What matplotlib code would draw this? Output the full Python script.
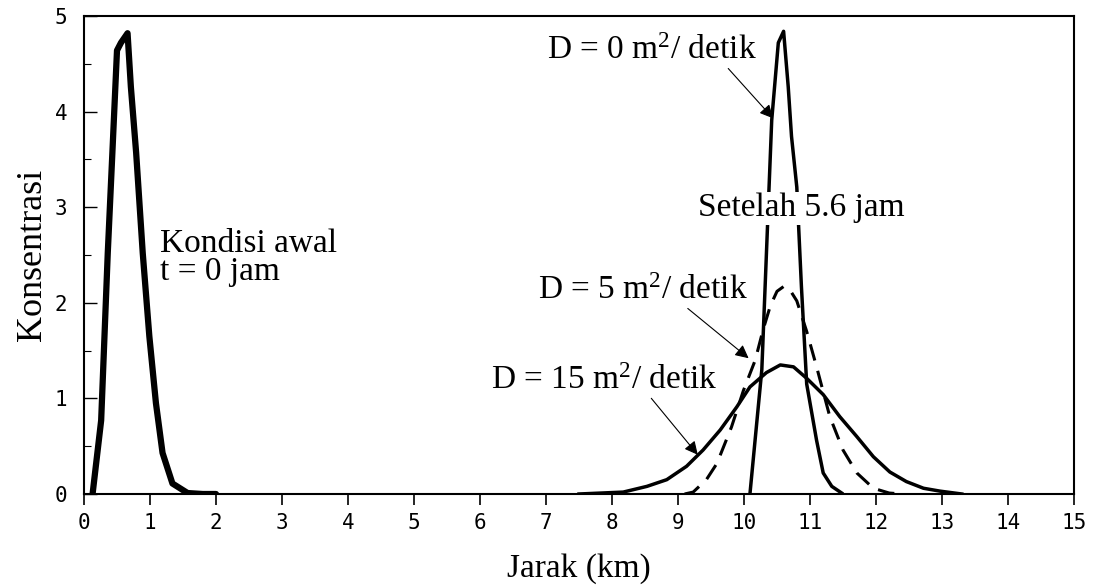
import matplotlib
matplotlib.use("Agg")
import matplotlib.pyplot as plt
from matplotlib.ticker import MultipleLocator

# ---- data ----
x_init = [0.13, 0.26, 0.36, 0.43, 0.50, 0.56, 0.66, 0.71, 0.79, 0.89, 0.99, 1.09, 1.19, 1.34, 1.57, 1.8, 2.0]
c_init = [0.0, 0.77, 2.52, 3.57, 4.64, 4.72, 4.82, 4.26, 3.57, 2.52, 1.65, 0.95, 0.43, 0.11, 0.01, 0.0, 0.0]

x_d0 = [10.09, 10.27, 10.34, 10.42, 10.52, 10.60, 10.67, 10.72, 10.80, 10.87, 10.95, 11.10, 11.20, 11.33, 11.48]
c_d0 = [0.0, 1.30, 2.52, 3.91, 4.72, 4.84, 4.26, 3.74, 3.21, 2.17, 1.15, 0.56, 0.22, 0.08, 0.01]

x_d5 = [9.1, 9.23, 9.43, 9.59, 9.81, 9.99, 10.17, 10.29, 10.40, 10.50, 10.60, 10.70, 10.80, 10.95, 11.10, 11.30, 11.50, 11.71, 11.96, 12.2, 12.4]
c_d5 = [0.0, 0.02, 0.15, 0.32, 0.70, 1.08, 1.40, 1.72, 1.97, 2.12, 2.17, 2.13, 2.02, 1.70, 1.33, 0.81, 0.46, 0.22, 0.06, 0.01, 0.0]

x_d15 = [7.5, 8.17, 8.53, 8.83, 9.13, 9.38, 9.64, 9.89, 10.09, 10.34, 10.55, 10.75, 10.95, 11.20, 11.45, 11.71, 11.96, 12.21, 12.46, 12.72, 12.97, 13.3]
c_d15 = [0.0, 0.02, 0.08, 0.15, 0.29, 0.46, 0.67, 0.91, 1.12, 1.27, 1.35, 1.33, 1.21, 1.04, 0.81, 0.60, 0.39, 0.23, 0.13, 0.06, 0.03, 0.0]

x_ticks = list(range(0, 16))
y_ticks = [0, 1, 2, 3, 4, 5]

plt.rcParams['mathtext.fontset'] = 'custom'
plt.rcParams['mathtext.rm'] = 'Liberation Serif'
plt.rcParams['mathtext.default'] = 'regular'

serif = 'Liberation Serif'
tfs = 24

fig = plt.figure(figsize=(10.96, 5.87), dpi=100)
ax = fig.add_axes([84/1096, 1 - 494/587, (1074-84)/1096, (494-16)/587])

ax.plot(x_init, c_init, color='black', lw=4.5, solid_joinstyle='round', solid_capstyle='round')
ax.plot(x_d0, c_d0, color='black', lw=2.5)
ax.plot(x_d5, c_d5, color='black', lw=2.2, dashes=(5.5, 3.5))
ax.plot(x_d15, c_d15, color='black', lw=2.5)

ax.set_xlim(0, 15)
ax.set_ylim(0, 5)
ax.set_xticks(x_ticks)
ax.set_yticks(y_ticks)
ax.yaxis.set_minor_locator(MultipleLocator(0.5))
ax.tick_params(axis='x', direction='out', length=8, width=1.2, pad=6)
ax.tick_params(axis='y', which='major', direction='in', length=9, width=1.0, pad=12)
ax.tick_params(axis='y', which='minor', direction='in', length=5, width=0.8)
for lab in ax.get_xticklabels() + ax.get_yticklabels():
    lab.set_family('DejaVu Sans Mono')
    lab.set_fontsize(15)
for s in ax.spines.values():
    s.set_linewidth(1.5)

ax.set_xlabel('Jarak (km)', family=serif, fontsize=tfs, labelpad=14)
ax.set_ylabel('Konsentrasi', family=serif, fontsize=tfs + 2, labelpad=4)

ax.text(1.15, 2.62, 'Kondisi awal', family=serif, fontsize=tfs, va='center', ha='left')
ax.text(1.15, 2.32, 't = 0 jam', family=serif, fontsize=tfs, va='center', ha='left')

ax.text(12.44, 2.99, 'Setelah 5.6 jam', family=serif, fontsize=tfs, va='center', ha='right',
        bbox=dict(facecolor='white', edgecolor='none', pad=1))

ap = dict(arrowstyle='-|>', lw=0.8, color='black', mutation_scale=20, shrinkA=0, shrinkB=0)
ax.annotate(r'D = 0 m$^{2}$/ detik', xy=(10.44, 3.93), xytext=(10.2, 4.64), family=serif, fontsize=tfs,
            va='center', ha='right', arrowprops=dict(ap, relpos=(0.85, 0.0)))
ax.annotate(r'D = 5 m$^{2}$/ detik', xy=(10.07, 1.42), xytext=(10.05, 2.13), family=serif, fontsize=tfs,
            va='center', ha='right', arrowprops=dict(ap, relpos=(0.7, 0.0)))
ax.annotate(r'D = 15 m$^{2}$/ detik', xy=(9.3, 0.41), xytext=(9.59, 1.19), family=serif, fontsize=tfs,
            va='center', ha='right', arrowprops=dict(ap, relpos=(0.7, 0.0)))

fig.savefig('out.png', dpi=100)
